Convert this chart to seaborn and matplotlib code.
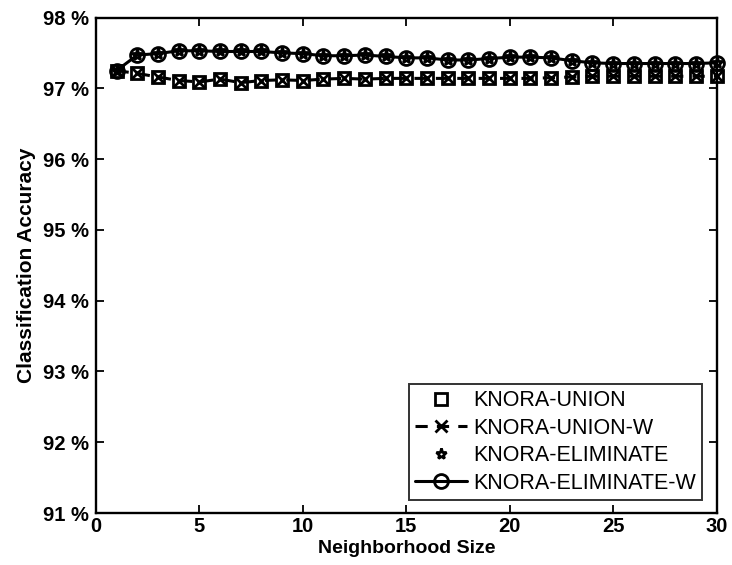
import matplotlib
matplotlib.use("Agg")
import matplotlib.pyplot as plt
import seaborn as sns
import pandas as pd
from matplotlib.ticker import FuncFormatter

sns.set_theme(style="white")
plt.rcParams['font.family'] = ['Liberation Sans', 'DejaVu Sans']
plt.rcParams.update({"text.color": "black", "axes.labelcolor": "black",
                     "xtick.color": "black", "ytick.color": "black"})

# Neighborhood sizes and accuracies (%)
neighborhood = list(range(1, 31))
knora_union = [97.25, 97.21, 97.16, 97.11, 97.09, 97.13, 97.08, 97.11, 97.12, 97.11,
               97.13, 97.14, 97.13, 97.14, 97.14, 97.14, 97.14, 97.14, 97.14, 97.14,
               97.14, 97.15, 97.16, 97.17, 97.17, 97.17, 97.17, 97.17, 97.17, 97.17]
knora_union_w = list(knora_union)
knora_eliminate = [97.25, 97.47, 97.49, 97.53, 97.53, 97.52, 97.52, 97.52, 97.50, 97.49,
                   97.46, 97.46, 97.47, 97.45, 97.43, 97.43, 97.40, 97.40, 97.42, 97.44,
                   97.44, 97.43, 97.39, 97.36, 97.35, 97.35, 97.35, 97.35, 97.35, 97.36]
knora_eliminate_w = list(knora_eliminate)

series_names = ["KNORA-UNION", "KNORA-UNION-W", "KNORA-ELIMINATE", "KNORA-ELIMINATE-W"]
series_values = [knora_union, knora_union_w, knora_eliminate, knora_eliminate_w]

frames = [pd.DataFrame({"size": neighborhood, "acc": v, "method": n})
          for n, v in zip(series_names, series_values)]
df = pd.concat(frames, ignore_index=True)

fig = plt.figure(figsize=(7.32, 5.65), dpi=100)
ax = fig.add_axes([0.131, 0.092, 0.848, 0.877])

styles = {
    "KNORA-UNION": dict(marker="s", ls="", ms=8),
    "KNORA-UNION-W": dict(marker="x", ls="--", ms=8),
    "KNORA-ELIMINATE": dict(marker="*", ls="", ms=8),
    "KNORA-ELIMINATE-W": dict(marker="o", ls="-", ms=10),
}
for name in series_names:
    st = styles[name]
    sns.lineplot(data=df[df["method"] == name], x="size", y="acc", ax=ax,
                 color="black", marker=st["marker"],
                 markersize=st["ms"], markerfacecolor="none",
                 markeredgecolor="black", markeredgewidth=2.0, linewidth=2.2,
                 label=name, errorbar=None, clip_on=False, zorder=3)
    line = ax.lines[-1]
    if st["ls"] == "":
        line.set_linestyle("none")
    elif st["ls"] == "--":
        line.set_linestyle((0, (4, 3)))
    else:
        line.set_linestyle("-")

ax.set_xlim(0, 30)
ax.set_ylim(91, 98)
ax.set_xticks(range(0, 31, 5))
ax.set_yticks(range(91, 99))
ax.yaxis.set_major_formatter(FuncFormatter(lambda v, p: f"{v:.0f} %"))
ax.tick_params(direction="in", length=6, width=1.3, top=True, right=True,
               bottom=True, left=True, labelsize=14.5)
ax.tick_params(axis="y", pad=5)
ax.tick_params(axis="x", pad=3)
for lbl in ax.get_xticklabels() + ax.get_yticklabels():
    lbl.set_fontweight("bold")
for sp in ax.spines.values():
    sp.set_color("black")
    sp.set_linewidth(1.7)

ax.set_xlabel("Neighborhood Size", fontsize=14, fontweight="bold", labelpad=3)
ax.set_ylabel("Classification Accuracy", fontsize=15, fontweight="bold", labelpad=5)

handles, labels = ax.get_legend_handles_labels()
leg = ax.legend(handles, labels, loc="lower right", bbox_to_anchor=(0.977, 0.026),
                frameon=True, fancybox=False,
                prop={"size": 15.5}, handlelength=2.4, borderpad=0.3,
                borderaxespad=0.0, labelspacing=0.3, handletextpad=0.3)
leg.get_frame().set_edgecolor("black")
leg.get_frame().set_linewidth(1.4)
for h, name in zip(leg.legend_handles, labels):
    st = styles[name]
    if st["ls"] == "":
        h.set_linestyle("none")
    elif st["ls"] == "--":
        h.set_linestyle((0, (4, 3)))
for t in leg.get_texts():
    t.set_color("black")

fig.savefig("out.png", dpi=100)
